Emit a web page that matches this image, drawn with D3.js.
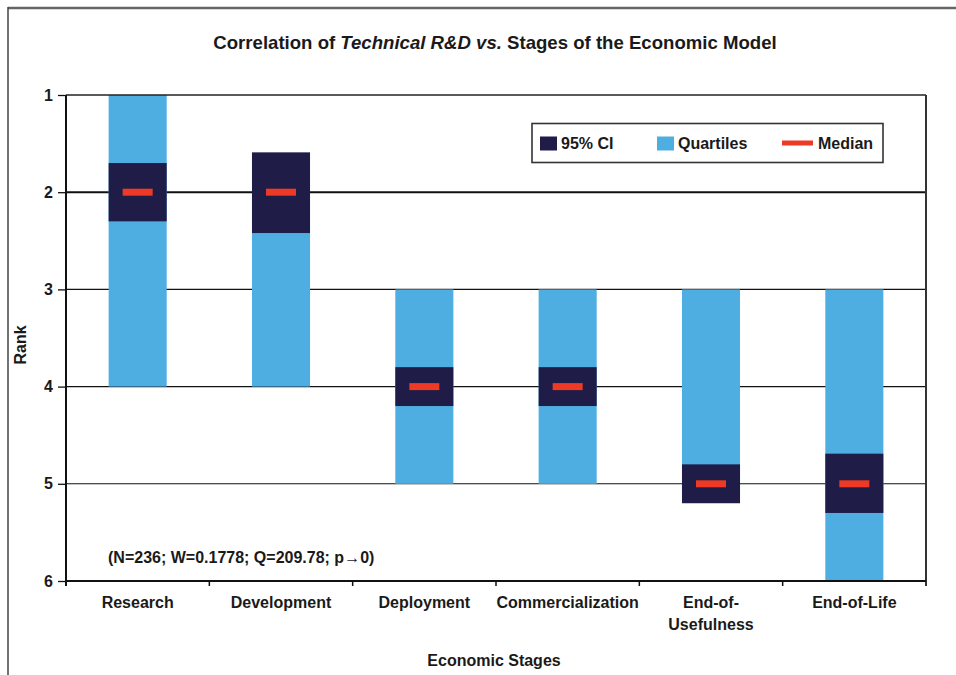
<!DOCTYPE html>
<html>
<head>
<meta charset="utf-8">
<script src="https://cdn.jsdelivr.net/npm/d3@7/dist/d3.min.js"></script>
<style>
  html, body { margin: 0; padding: 0; background: #fff; }
  svg text { font-family: "Liberation Sans", Arial, Helvetica, sans-serif; font-weight: bold; fill: #1a1a1a; }
</style>
</head>
<body>
<svg id="chart" width="956" height="675"></svg>
<script>
// ---- data ----
const categories = ["Research", "Development", "Deployment", "Commercialization", "End-of-Usefulness", "End-of-Life"];
const categoryLines = [["Research"], ["Development"], ["Deployment"], ["Commercialization"], ["End-of-", "Usefulness"], ["End-of-Life"]];
const quartileLow  = [1, 2, 3, 3, 3, 3];
const quartileHigh = [4, 4, 5, 5, 5, 6];
const ciLow  = [1.7, 1.59, 3.8, 3.8, 4.8, 4.69];
const ciHigh = [2.3, 2.42, 4.2, 4.2, 5.2, 5.3];
const medians = [2, 2, 4, 4, 5, 5];
const rankTicks = [1, 2, 3, 4, 5, 6];
const gridValues = [2, 3, 4, 5];
const legendItems = ["95% CI", "Quartiles", "Median"];
const annotation = "(N=236; W=0.1778; Q=209.78; p\u21920)";

const colQuart = "#4FAEE1";
const colCI = "#1F1D48";
const colMed = "#EE3A24";

const svg = d3.select("#chart");

// outer frame (left + top only visible)
svg.append("line").attr("x1", 8).attr("x2", 956).attr("y1", 8).attr("y2", 8).attr("stroke", "#666").attr("stroke-width", 2.5);
svg.append("line").attr("x1", 8).attr("x2", 8).attr("y1", 7).attr("y2", 675).attr("stroke", "#444").attr("stroke-width", 1.5);

const L = 66, R = 926, T = 95, B = 581;
const x = d3.scaleBand().domain(categories).range([L, R]).padding(0);
const y = d3.scaleLinear().domain([1, 6]).range([T, B]);
const barW = x.bandwidth() * 0.405;
const medW = 30;

// title
const title = svg.append("text").attr("x", 495).attr("y", 49).attr("text-anchor", "middle").style("font-size", "18.6px");
title.append("tspan").text("Correlation of ");
title.append("tspan").style("font-style", "italic").text("Technical R&D vs.");
title.append("tspan").text(" Stages of the Economic Model");

// gridlines
svg.append("g").selectAll("line").data(gridValues).join("line")
  .attr("x1", L).attr("x2", R)
  .attr("y1", d => y(d)).attr("y2", d => y(d))
  .attr("stroke", "#111").attr("stroke-width", d => d === 2 ? 2 : 1.1);

// quartile bars
const idx = d3.range(categories.length);
svg.append("g").selectAll("rect").data(idx).join("rect")
  .attr("x", i => x(categories[i]) + (x.bandwidth() - barW) / 2)
  .attr("width", barW)
  .attr("y", i => y(quartileLow[i]))
  .attr("height", i => y(quartileHigh[i]) - y(quartileLow[i]))
  .attr("fill", colQuart);

// CI boxes
svg.append("g").selectAll("rect").data(idx).join("rect")
  .attr("x", i => x(categories[i]) + (x.bandwidth() - barW) / 2)
  .attr("width", barW)
  .attr("y", i => y(ciLow[i]))
  .attr("height", i => y(ciHigh[i]) - y(ciLow[i]))
  .attr("fill", colCI);

// medians
svg.append("g").selectAll("rect").data(idx).join("rect")
  .attr("x", i => x(categories[i]) + (x.bandwidth() - medW) / 2)
  .attr("width", medW)
  .attr("y", i => y(medians[i]) - 3.5)
  .attr("height", 7)
  .attr("fill", colMed);

// plot frame: top, right
svg.append("line").attr("x1", L).attr("x2", R).attr("y1", T).attr("y2", T).attr("stroke", "#222").attr("stroke-width", 1.6);
svg.append("line").attr("x1", R).attr("x2", R).attr("y1", T).attr("y2", B + 5).attr("stroke", "#333").attr("stroke-width", 2);

// y axis
const yAxis = svg.append("g").attr("transform", `translate(${L},0)`)
  .call(d3.axisLeft(y).tickValues(rankTicks).tickSize(8).tickPadding(5).tickFormat(d3.format("d")));
yAxis.select(".domain").attr("stroke", "#111").attr("stroke-width", 2).attr("d", `M0,${T}V${B + 5}`);
yAxis.selectAll(".tick line").attr("stroke", "#111").attr("stroke-width", 1.3);
yAxis.selectAll(".tick text").style("font-size", "16px").attr("fill", "#1a1a1a");

// x axis
const xAxis = svg.append("g").attr("transform", `translate(0,${B})`)
  .call(d3.axisBottom(x).tickSize(0).tickFormat(""));
xAxis.select(".domain").attr("stroke", "#111").attr("stroke-width", 2).attr("d", `M${L},0H${R}`);
xAxis.selectAll(".tick").remove();
// boundary ticks
svg.append("g").selectAll("line").data(categories.slice(1)).join("line")
  .attr("x1", d => x(d)).attr("x2", d => x(d))
  .attr("y1", B).attr("y2", B + 5)
  .attr("stroke", "#111").attr("stroke-width", 1.5);

// category labels
const lab = svg.append("g").selectAll("text").data(idx).join("text")
  .attr("text-anchor", "middle").style("font-size", "16px")
  .attr("transform", i => `translate(${x(categories[i]) + x.bandwidth() / 2},608)`);
lab.selectAll("tspan").data(i => categoryLines[i]).join("tspan")
  .attr("x", 0).attr("dy", (d, j) => j === 0 ? 0 : 22).text(d => d);

// axis titles
svg.append("text").attr("x", 494).attr("y", 666).attr("text-anchor", "middle").style("font-size", "16px").text("Economic Stages");
svg.append("text").attr("transform", "translate(26,345) rotate(-90)").attr("text-anchor", "middle").style("font-size", "16px").text("Rank");

// annotation
svg.append("text").attr("x", 108).attr("y", 563).style("font-size", "16px").text(annotation);

// legend
const lg = svg.append("g");
lg.append("rect").attr("x", 532).attr("y", 123.5).attr("width", 351).attr("height", 39)
  .attr("fill", "#fff").attr("stroke", "#333").attr("stroke-width", 1.6);
const lx = [540, 657, 782];
const tx = [561, 678, 818];
lg.append("rect").attr("x", lx[0]).attr("y", 136.5).attr("width", 17).attr("height", 14).attr("fill", colCI);
lg.append("rect").attr("x", lx[1]).attr("y", 136.5).attr("width", 17).attr("height", 14).attr("fill", colQuart);
lg.append("rect").attr("x", lx[2]).attr("y", 140.5).attr("width", 31).attr("height", 5).attr("fill", colMed);
lg.selectAll("text.leg").data(legendItems).join("text").attr("class", "leg")
  .attr("x", (d, i) => tx[i]).attr("y", 149).style("font-size", "16px").text(d => d);
</script>
</body>
</html>
